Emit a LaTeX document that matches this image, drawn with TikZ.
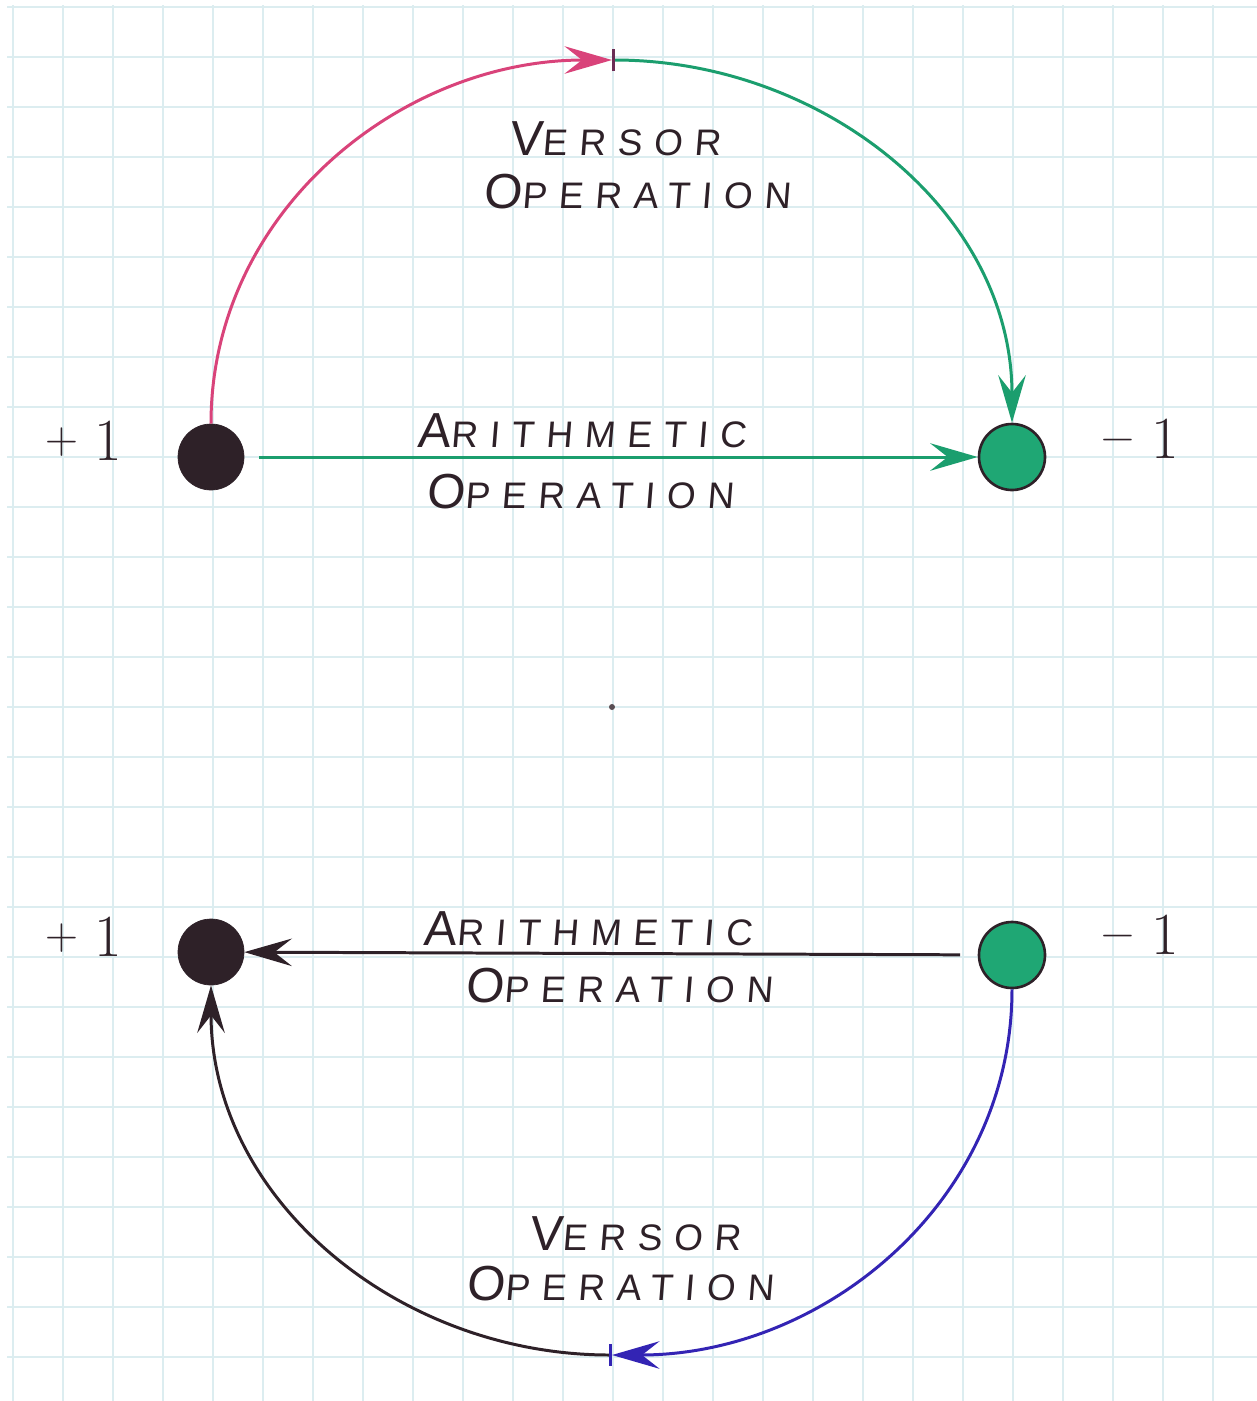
\documentclass[tikz,border=0pt]{standalone}
\usepackage{fontspec}
\usepackage{xcolor}
\usepackage{tikz}
\usetikzlibrary{arrows.meta, positioning}
\newfontfamily\handfont{Liberation Sans}[LetterSpace=32, FakeSlant=0.08]
\newcommand{\handword}[2]{{\fontsize{28}{30}\selectfont #1}{\fontsize{21}{23}\selectfont #2}}
\newcommand{\signword}[1]{\raisebox{4pt}{\fontsize{26}{28}\selectfont #1}\hspace{0.28em}1}
\definecolor{gridblue}{HTML}{DCEDF0}
\definecolor{inkdark}{HTML}{2E2128}
\definecolor{pinkpen}{HTML}{D9437A}
\definecolor{greenpen}{HTML}{1B9E6E}
\definecolor{dotgreen}{HTML}{1FA774}
\definecolor{bluepen}{HTML}{3324B4}
\definecolor{barpurple}{HTML}{6B2D55}

\begin{document}
\begin{tikzpicture}[
      gridline/.style={draw=gridblue, line width=1.3pt},
      dot/.style={circle, minimum size=1.32cm, inner sep=0pt},
      plusdot/.style={dot, fill=inkdark, draw=inkdark},
      minusdot/.style={dot, fill=dotgreen, draw=inkdark, line width=1.5pt},
      sign/.style={font=\fontsize{34}{36}\selectfont, text=inkdark, inner sep=0pt},
      caption/.style={font=\handfont, text=inkdark, anchor=base, inner sep=0pt},
      pen/.style={line width=1.7pt},
      >={Stealth[length=0.95cm, width=0.55cm, inset=0.35cm]},
   ]
   \useasboundingbox (0,0) rectangle (25.14,-28.02);
   \fill[white] (0,0) rectangle (25.14,-28.02);

   % graph paper
   \foreach \gx in {0,...,24}
      \draw[gridline] (0.26+\gx,-0.1) -- (0.26+\gx,-28.02);
   \foreach \gy in {0,...,27}
      \draw[gridline] (0.14,-0.14-\gy) -- (25.14,-0.14-\gy);

   % upper pair
   \node[plusdot]  (ptop) at (4.22,-9.14) {};
   \node[minusdot] (mtop) at (20.24,-9.14) {};
   \node[sign, left=1.1cm of ptop, yshift=0.32cm]  (ptoplabel) {\signword{+}};
   \node[sign, right=1.1cm of mtop, yshift=0.36cm] (mtoplabel) {\signword{\symbol{"2212}}};
   \coordinate (topmark) at (12.24,-1.2);

   % lower pair
   \node[plusdot]  (pbot) at (4.22,-19.04) {};
   \node[minusdot] (mbot) at (20.24,-19.1) {};
   \node[sign, left=1.1cm of pbot, yshift=0.3cm]  (pbotlabel) {\signword{+}};
   \node[sign, right=1.1cm of mbot, yshift=0.4cm] (mbotlabel) {\signword{\symbol{"2212}}};
   \coordinate (botmark) at (12.24,-27.1);

   \node[circle, fill=inkdark!80, minimum size=0.12cm, inner sep=0pt] (origin) at (12.24,-14.14) {};

   % captions
   \node[caption] (versortop)  at (12.3,-3.1)    {\handword{V}{ERSOR}};
   \node[caption] (vopertop)   at (12.74,-4.16)  {\handword{O}{PERATION}};
   \node[caption] (arithtop)   at (11.64,-8.94)  {\handword{A}{RITHMETIC}};
   \node[caption] (aopertop)   at (11.6,-10.16)  {\handword{O}{PERATION}};
   \node[caption] (arithbot)   at (11.76,-18.9)  {\handword{A}{RITHMETIC}};
   \node[caption] (aoperbot)   at (12.38,-20.04) {\handword{O}{PERATION}};
   \node[caption] (versorbot)  at (12.7,-25.0)   {\handword{V}{ERSOR}};
   \node[caption] (voperbot)   at (12.4,-26.0)   {\handword{O}{PERATION}};

   % arithmetic operations
   \draw[pen, greenpen, ->, shorten <=0.3cm] (ptop) -- (mtop);
   \draw[pen, inkdark, ->, shorten <=0.35cm] (mbot) -- (pbot);

   % versor operations
   \draw[pen, pinkpen, ->] (ptop.north) to[out=90, in=180] (topmark);
   \draw[pen, greenpen, {Bar[width=0.45cm, color=barpurple]}->] (topmark) to[out=0, in=90] (mtop.north);
   \draw[pen, bluepen, ->] (mbot.south) to[out=-90, in=0] (botmark);
   \draw[pen, inkdark, {Bar[width=0.45cm, color=bluepen]}->] (botmark) to[out=180, in=-90] (pbot.south);
\end{tikzpicture}
\end{document}
